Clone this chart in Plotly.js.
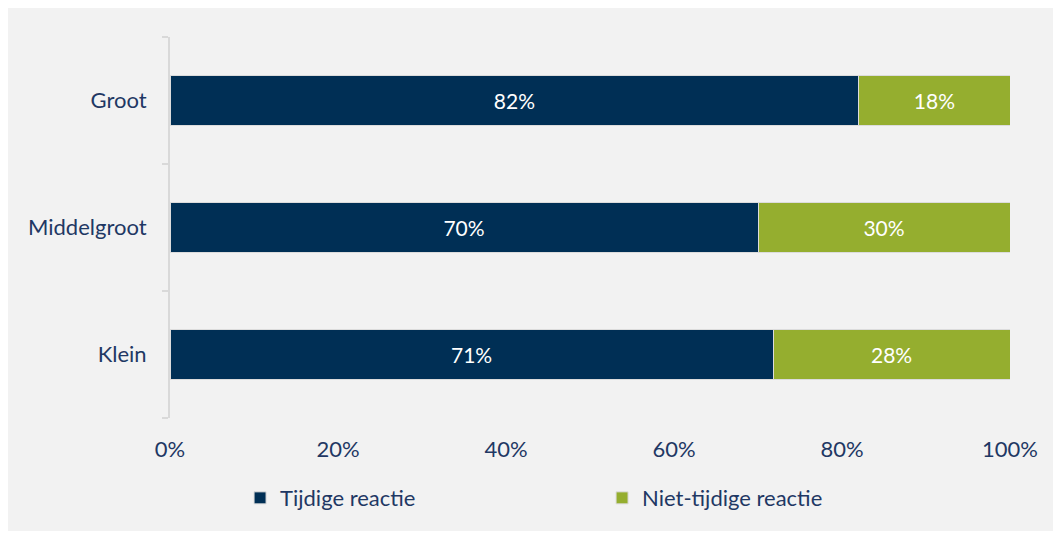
<!DOCTYPE html>
<html>
<head>
<meta charset="utf-8">
<script src="https://cdn.plot.ly/plotly-3.0.1.min.js"></script>
<style>
html,body{margin:0;padding:0;background:#ffffff;}
#chart{position:absolute;left:8px;top:8px;width:1045px;height:523px;}
</style>
</head>
<body>
<div id="chart"></div>
<script>
var categories = ["Klein", "Middelgroot", "Groot"];
var seriesNames = ["Tijdige reactie", "Niet-tijdige reactie"];
var tijdige = [71.8, 70, 82];
var nietTijdige = [28.2, 30, 18];
var tijdigeLabels = ["71%", "70%", "82%"];
var nietTijdigeLabels = ["28%", "30%", "18%"];
var xTickValues = [0, 20, 40, 60, 80, 100];
var xTickLabels = ["0%", "20%", "40%", "60%", "80%", "100%"];

var FONT = "Lato, 'Open Sans', sans-serif";
var TXT = "#1f3864";

var traces = [
  {
    type: "bar", orientation: "h", name: seriesNames[0],
    y: categories, x: tijdige, text: tijdigeLabels, texttemplate: "%{text}",
    textposition: "inside", insidetextanchor: "middle",
    textfont: {color: "#ffffff", size: 21, family: FONT},
    marker: {color: "#002f55", line: {color: "#dcdcdc", width: 1}},
    width: 0.4, hoverinfo: "skip"
  },
  {
    type: "bar", orientation: "h", name: seriesNames[1],
    y: categories, x: nietTijdige, text: nietTijdigeLabels, texttemplate: "%{text}",
    textposition: "inside", insidetextanchor: "middle",
    textfont: {color: "#ffffff", size: 21, family: FONT},
    marker: {color: "#95ae2f", line: {color: "#dcdcdc", width: 1}},
    width: 0.4, hoverinfo: "skip"
  }
];

var layout = {
  width: 1045, height: 523,
  paper_bgcolor: "#f2f2f2", plot_bgcolor: "#f2f2f2",
  barmode: "stack",
  margin: {l: 162, r: 43, t: 29, b: 113, autoexpand: false},
  font: {family: FONT, color: TXT, size: 22},
  showlegend: true,
  legend: {
    orientation: "h", x: 0.0834, xanchor: "left", y: -0.155, yanchor: "top",
    entrywidth: 317, entrywidthmode: "pixels",
    font: {family: FONT, size: 22, color: TXT},
    bgcolor: "rgba(0,0,0,0)", traceorder: "normal"
  },
  xaxis: {
    range: [0, 100], tickmode: "array", tickvals: xTickValues, ticktext: xTickLabels,
    showgrid: false, zeroline: false, showline: false, ticks: "",
    ticklabelstandoff: 16, tickfont: {size: 22, color: TXT, family: FONT},
    fixedrange: true
  },
  yaxis: {
    type: "category", categoryorder: "array", categoryarray: categories,
    range: [-0.5, 2.5], showgrid: false, zeroline: false,
    showline: true, linecolor: "#d9d9d9", linewidth: 2,
    ticks: "outside", tickson: "boundaries", ticklen: 6, tickcolor: "#d9d9d9", tickwidth: 2,
    ticklabelstandoff: 17, tickfont: {size: 22, color: TXT, family: FONT},
    fixedrange: true
  }
};

Plotly.newPlot("chart", traces, layout, {displayModeBar: false, staticPlot: true});
</script>
</body>
</html>
